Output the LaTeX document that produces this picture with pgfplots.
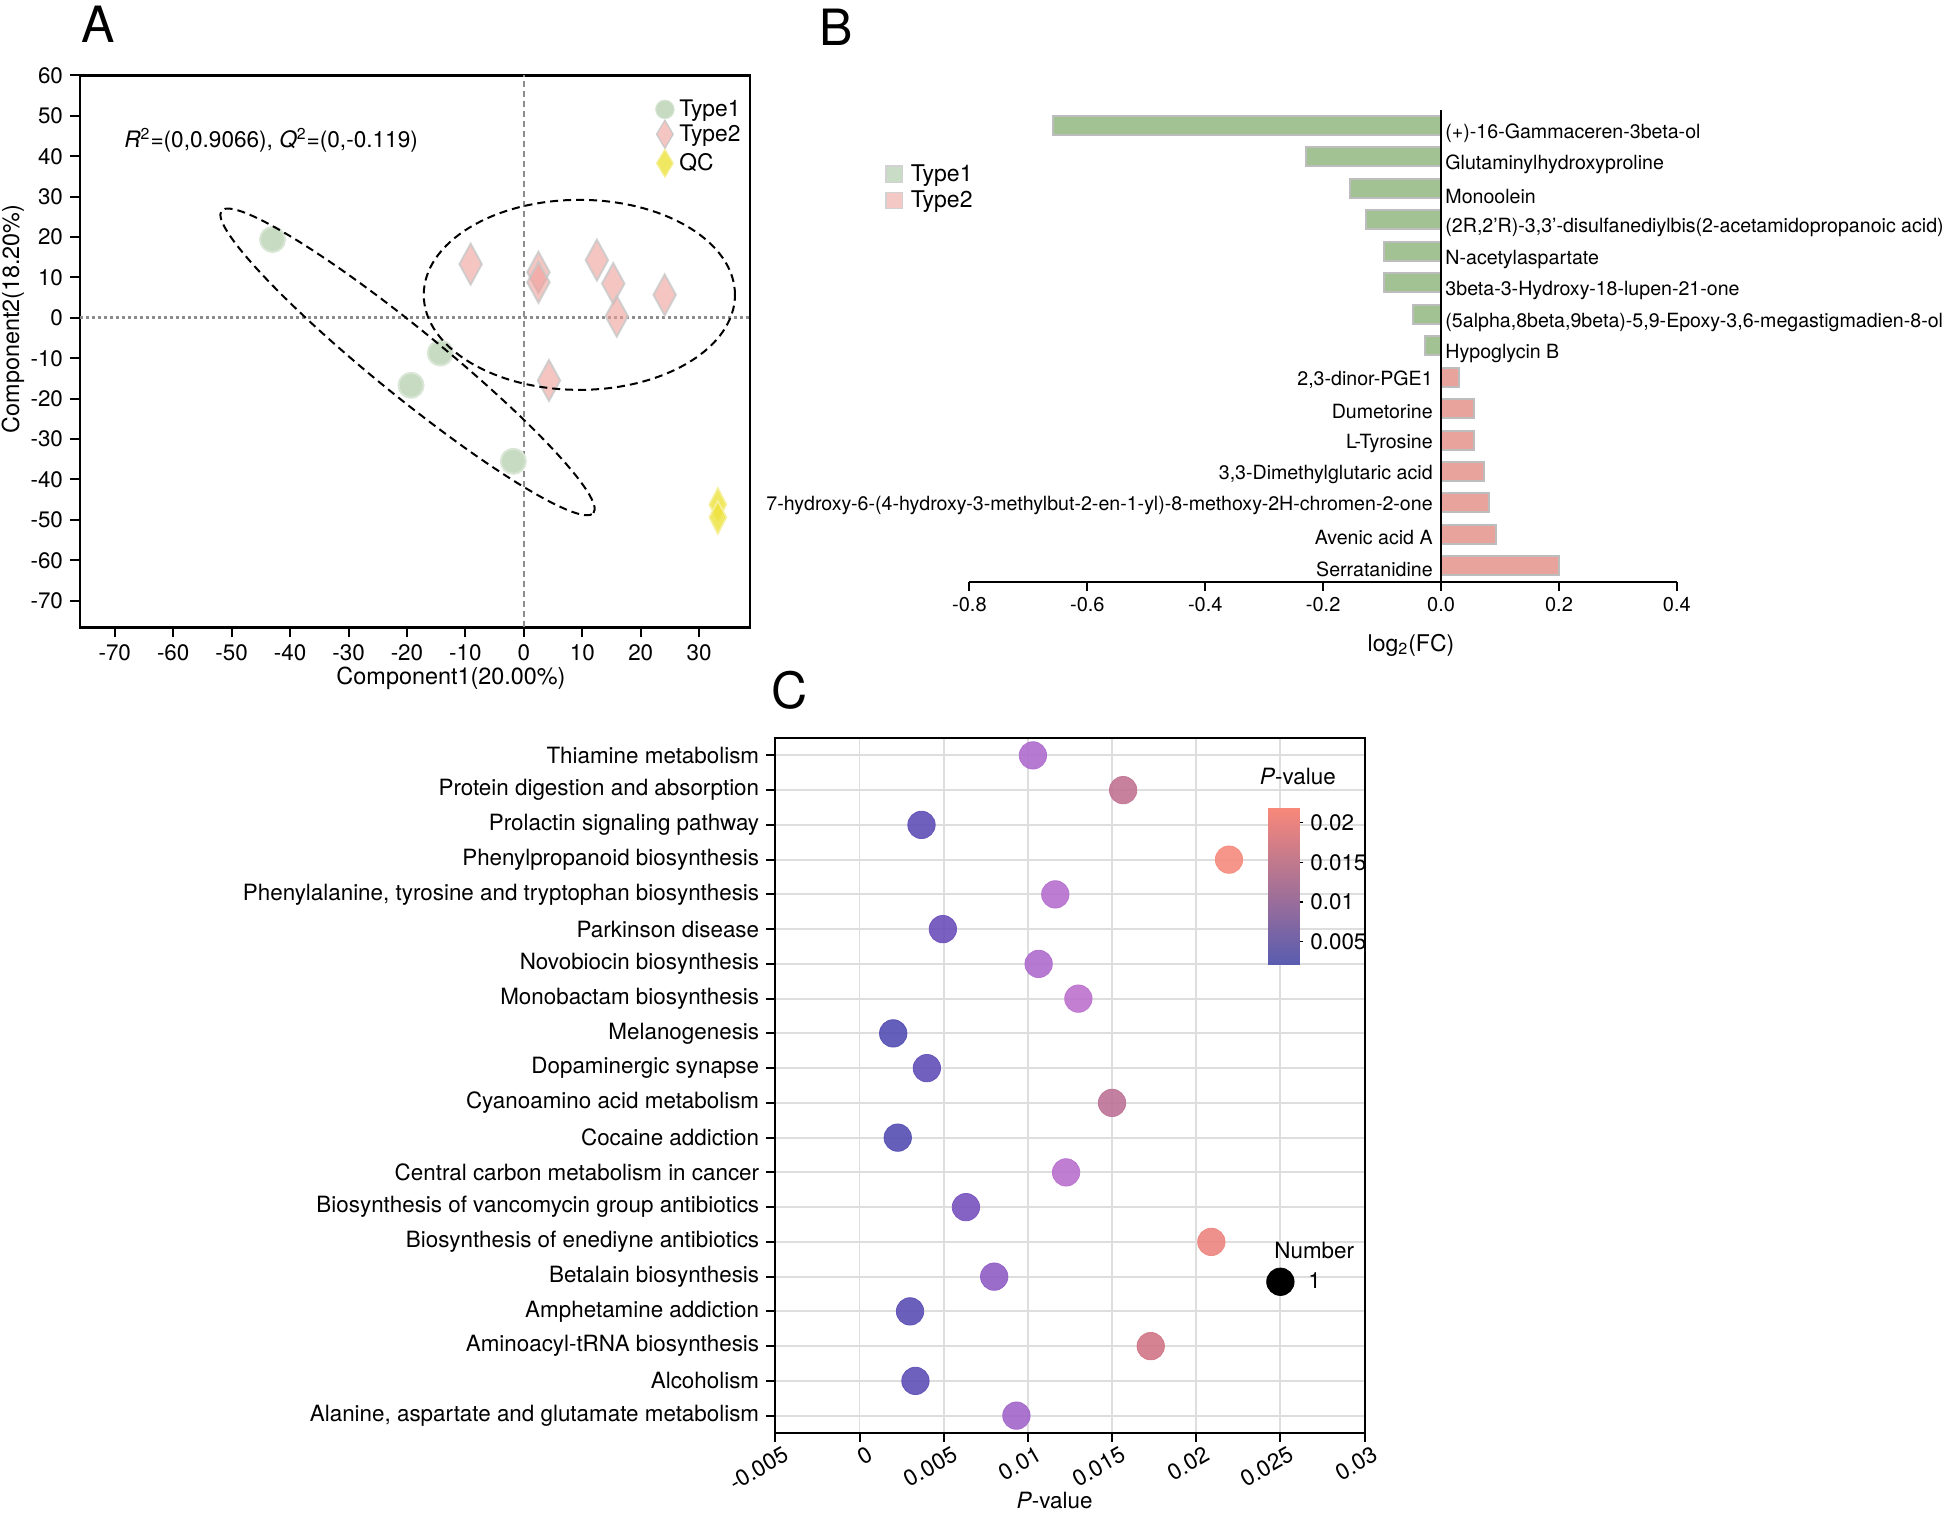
\documentclass[border=0pt]{standalone}
\usepackage{fontspec}
\setmainfont{TeX Gyre Heros}
\usepackage{pgfplots}
\usepackage{pgfplotstable}
\pgfplotsset{compat=1.18, /pgf/number format/assume math mode=true}
\pgfplotsset{markleg/.style={legend image code/.code={\draw[##1] plot coordinates {(0pt,#1)};}}}

\definecolor{onefill}{HTML}{C6DBC2}
\definecolor{onedraw}{HTML}{D9E6D6}
\definecolor{twofill}{HTML}{EE9F9A}
\definecolor{twodraw}{HTML}{C8C8C8}
\definecolor{qcfill}{HTML}{EDE23A}
\definecolor{gbar}{HTML}{A2C293}
\definecolor{pbar}{HTML}{E9A39D}
\definecolor{barline}{HTML}{BDBDBD}
\definecolor{leggreen}{HTML}{C9DDC6}
\definecolor{legpink}{HTML}{F3C8C5}
\definecolor{gridc}{HTML}{DEDEDE}
\definecolor{refline}{HTML}{8C8C8C}

\newcommand\fA{\fontsize{11.2}{13}\selectfont}
\newcommand\fAlab{\fontsize{11.7}{14}\selectfont}
\newcommand\fAleg{\fontsize{11.4}{13}\selectfont}
\newcommand\fR{\fontsize{11.3}{13}\selectfont}
\newcommand\fBt{\fontsize{10}{12}\selectfont}
\newcommand\fBl{\fontsize{9.8}{11}\selectfont}
\newcommand\fBleg{\fontsize{11.5}{13}\selectfont}
\newcommand\fBx{\fontsize{11.5}{13}\selectfont}
\newcommand\fC{\fontsize{11.2}{13}\selectfont}
\newcommand\fCt{\fontsize{11.3}{13}\selectfont}
\newcommand\fL{\fontsize{25}{28}\selectfont}

\pgfplotstableread[col sep=semicolon, row sep=\\]{
x;y;name\\
0;14;(+)-16-Gammaceren-3beta-ol\\
0;13;Glutaminylhydroxyproline\\
0;12;Monoolein\\
0;11;(2R,2'R)-3,3'-disulfanediylbis(2-acetamidopropanoic acid)\\
0;10;N-acetylaspartate\\
0;9;3beta-3-Hydroxy-18-lupen-21-one\\
0;8;(5alpha,8beta,9beta)-5,9-Epoxy-3,6-megastigmadien-8-ol\\
0;7;Hypoglycin B\\
}\Bleft

\pgfplotstableread[col sep=semicolon, row sep=\\]{
x;y;name\\
0;6;2,3-dinor-PGE1\\
0;5;Dumetorine\\
0;4;L-Tyrosine\\
0;3;3,3-Dimethylglutaric acid\\
0;2;7-hydroxy-6-(4-hydroxy-3-methylbut-2-en-1-yl)-8-methoxy-2H-chromen-2-one\\
0;1;Avenic acid A\\
0;0;Serratanidine\\
}\Bright

\pgfplotstableread{
p y
0.01030 0
0.01566 1
0.00368 2
0.02195 3
0.01163 4
0.00495 5
0.01064 6
0.01300 7
0.00200 8
0.00400 9
0.01500 10
0.00227 11
0.01227 12
0.00632 13
0.02090 14
0.00800 15
0.00300 16
0.01730 17
0.00332 18
0.00932 19
}\Cdata

\begin{document}
\begin{tikzpicture}
\useasboundingbox (0,0) rectangle (972.5pt,-760pt);

% ---------------- Panel A ----------------
\begin{axis}[
  at={(40pt,-37.75pt)}, anchor=north west, scale only axis,
  width=335pt, height=275.9pt,
  xmin=-75.95, xmax=38.7, ymin=-76.6, ymax=60,
  xtick={-70,-60,-50,-40,-30,-20,-10,0,10,20,30},
  ytick={-70,-60,-50,-40,-30,-20,-10,0,10,20,30,40,50,60},
  tick pos=left, tick align=outside, major tick length=5pt,
  axis line style={line width=1.2pt},
  every tick/.style={black, line width=1pt},
  tick label style={font=\fA},
  clip=false,
  legend style={at={(axis description cs:0.8585,0.957)}, anchor=north west,
    draw=none, fill=none, inner sep=0pt, row sep=0.5pt, font=\fAleg,
    nodes={inner xsep=2.6pt, inner ysep=0pt}},
  legend cell align=left,
]
\draw[refline, line width=1.4pt, dash pattern=on 1.4pt off 1.6pt] (axis cs:-75.95,0) -- (axis cs:38.7,0);
\draw[refline, line width=1pt, dash pattern=on 3pt off 2pt] (axis cs:0,-76.6) -- (axis cs:0,60);
\addplot[only marks, mark=*, mark size=6.25pt,
  mark options={fill=onefill, draw=onedraw, line width=1pt}, forget plot]
  coordinates {(-43.0,19.4) (-14.3,-8.7) (-19.3,-16.7) (-1.8,-35.5)};
\addplot[only marks, mark=diamond*, mark size=10.2pt,
  mark options={xscale=0.73, fill=twofill, fill opacity=0.6, draw=twodraw, draw opacity=0.8, line width=1pt}, forget plot]
  coordinates {(-9.1,13.3) (2.5,11.3) (2.5,8.8) (12.5,14.3) (15.3,8.5) (15.9,0.4) (24.1,5.7) (4.3,-15.5)};
\addplot[only marks, mark=diamond*, mark size=8.25pt,
  mark options={xscale=0.69, fill=qcfill, fill opacity=0.8, draw=qcfill!50, line width=0.8pt}, forget plot]
  coordinates {(33.2,-46.2) (33.2,-49.4)};
\coordinate (e1) at (axis cs:-19.9,-10.9);
\coordinate (e2) at (axis cs:9.5,5.7);
\addlegendimage{mark=*, mark size=4.65pt, mark options={fill=onefill, draw=onedraw, line width=0.5pt}, markleg=0pt}
\addlegendentry{Type1}
\addlegendimage{mark=diamond*, mark size=7pt, mark options={xscale=0.79, fill=twofill, fill opacity=0.6, draw=twodraw, line width=0.6pt}, markleg=0pt}
\addlegendentry{Type2}
\addlegendimage{mark=diamond*, mark size=7pt, mark options={xscale=0.79, fill=qcfill, fill opacity=0.8, draw=qcfill!50, line width=0.6pt}, markleg=0pt}
\addlegendentry{QC}
\end{axis}
\draw[black, line width=1pt, dash pattern=on 4pt off 2.5pt, rotate around={-39.1:(e1)}] (e1) ellipse [x radius=119.8pt, y radius=16.75pt];
\draw[black, line width=1pt, dash pattern=on 4pt off 2.5pt] (e2) ellipse [x radius=77.8pt, y radius=47.5pt];
\node[anchor=west, font=\fR, inner sep=0pt] at (62pt,-70pt) {\textit{R}\textsuperscript{2}=(0,0.9066), \textit{Q}\textsuperscript{2}=(0,-0.119)};
\node[font=\fAlab] at (225.5pt,-339.2pt) {Component1(20.00\%)};
\node[font=\fAlab, rotate=90] at (6.5pt,-159.5pt) {Component2(18.20\%)};
\node[font=\fL] at (48.85pt,-12.35pt) {A};

% ---------------- Panel B ----------------
\begin{axis}[
  at={(484.7pt,-54.8pt)}, anchor=north west, scale only axis,
  width=353.75pt, height=236pt,
  xmin=-0.8, xmax=0.4, ymin=-0.5, ymax=14.5,
  axis x line*=bottom, axis y line=none,
  xtick={-0.8,-0.6,-0.4,-0.2,0,0.2,0.4},
  xticklabel style={/pgf/number format/fixed, /pgf/number format/fixed zerofill, /pgf/number format/precision=1, font=\fBt},
  tick align=outside, major tick length=4.5pt,
  axis line style={line width=1pt}, every tick/.style={black, line width=1pt},
  clip=false,
  legend style={at={(axis description cs:-0.1193,0.8845)}, anchor=north west,
    draw=none, fill=none, inner sep=0pt, row sep=3.15pt, font=\fBleg,
    nodes={inner xsep=3.8pt, inner ysep=0pt}},
  legend cell align=left,
]
\addplot[xbar, bar width=9.5pt, bar shift=0pt, fill=gbar, draw=barline, line width=1pt, forget plot]
  coordinates {(-0.658,14) (-0.229,13) (-0.154,12) (-0.128,11) (-0.096,10) (-0.096,9) (-0.047,8) (-0.028,7)};
\addplot[xbar, bar width=9.5pt, bar shift=0pt, fill=pbar, draw=barline, line width=1pt, forget plot]
  coordinates {(0.031,6) (0.056,5) (0.056,4) (0.072,3) (0.081,2) (0.094,1) (0.200,0)};
\draw[line width=1pt] (axis cs:0,-0.5) -- (axis cs:0,14.5);
\addplot[draw=none, mark=none, nodes near coords, point meta=explicit symbolic, forget plot,
  every node near coord/.append style={anchor=west, font=\fBl, inner xsep=2pt, inner ysep=0pt, yshift=-4pt, text=black}]
  table[x=x, y=y, meta=name] {\Bleft};
\addplot[draw=none, mark=none, nodes near coords, point meta=explicit symbolic, forget plot,
  every node near coord/.append style={anchor=east, font=\fBl, inner xsep=1pt, inner ysep=0pt, xshift=-3pt, yshift=-1.5pt, text=black}]
  table[x=x, y=y, meta=name] {\Bright};
\addlegendimage{legend image code/.code={\draw[fill=leggreen, draw=barline!70, line width=0.6pt] (0pt,-4.175pt) rectangle (8.35pt,4.175pt);}}
\addlegendentry{Type1}
\addlegendimage{legend image code/.code={\draw[fill=legpink, draw=barline!70, line width=0.6pt] (0pt,-4.175pt) rectangle (8.35pt,4.175pt);}}
\addlegendentry{Type2}
\end{axis}
\node[font=\fBx] at (705.5pt,-322.5pt) {log\textsubscript{2}(FC)};
\node[font=\fL] at (418pt,-13.75pt) {B};

% ---------------- Panel C ----------------
\begin{axis}[
  at={(387.7pt,-369pt)}, anchor=north west, scale only axis,
  width=294.55pt, height=347.5pt,
  xmin=-0.005, xmax=0.03, ymin=-0.5, ymax=19.5, y dir=reverse,
  xtick={-0.005,0,0.005,0.01,0.015,0.02,0.025,0.03},
  ytick={0,1,2,3,4,5,6,7,8,9,10,11,12,13,14,15,16,17,18,19},
  yticklabels={Thiamine metabolism, Protein digestion and absorption, Prolactin signaling pathway,
    Phenylpropanoid biosynthesis, {Phenylalanine, tyrosine and tryptophan biosynthesis},
    Parkinson disease, Novobiocin biosynthesis, Monobactam biosynthesis, Melanogenesis,
    Dopaminergic synapse, Cyanoamino acid metabolism, Cocaine addiction,
    Central carbon metabolism in cancer, Biosynthesis of vancomycin group antibiotics,
    Biosynthesis of enediyne antibiotics, Betalain biosynthesis, Amphetamine addiction,
    Aminoacyl-tRNA biosynthesis, Alcoholism, {Alanine, aspartate and glutamate metabolism}},
  scaled x ticks=false,
  xticklabel style={/pgf/number format/fixed, /pgf/number format/precision=3, rotate=30, anchor=north east, inner sep=1pt, xshift=3.5pt, yshift=-2pt, font=\fCt},
  yticklabel style={font=\fC, inner ysep=0pt},
  grid=major, grid style={gridc, line width=0.9pt},
  tick pos=left, tick align=outside, major tick length=4.6pt,
  axis line style={line width=1pt}, every tick/.style={black, line width=1pt},
  clip=false,
  colormap={pv}{rgb255(0)=(83,78,178) rgb255(8)=(116,80,189) rgb255(16)=(172,107,205) rgb255(22)=(188,114,205) rgb255(26)=(188,114,150) rgb255(31)=(210,116,133) rgb255(40)=(245,138,125)},
  point meta min=0.002, point meta max=0.022,
  legend style={at={(axis description cs:0.8333,0.2748)}, anchor=north west,
    draw=none, fill=none, inner sep=0pt, row sep=3.15pt, font=\fC,
    nodes={inner xsep=7.15pt, inner ysep=0pt}},
  legend cell align=left,
]
\addplot[scatter, only marks, mark=*, mark size=6.85pt, point meta=explicit,
  scatter/use mapped color={draw=mapped color, fill=mapped color}, opacity=0.9, forget plot]
  table[x=p, y=y, meta=p] {\Cdata};
\addlegendimage{empty legend}
\addlegendentry{\hspace*{-17pt}Number}
\addlegendimage{mark=*, mark size=6.85pt, mark options={fill=black, draw=black}, markleg=0pt}
\addlegendentry{1}
\end{axis}
\node[font=\fC] at (527.3pt,-750.3pt) {\textit{P}-value};
\node[font=\fC] at (648.9pt,-388.35pt) {\textit{P}-value};
\node[font=\fL] at (395pt,-345pt) {C};

% colour bar
\begin{axis}[
  at={(634.15pt,-403.85pt)}, anchor=north west, scale only axis,
  width=15.5pt, height=78.3pt,
  xmin=0, xmax=1, ymin=0.00215, ymax=0.0219,
  axis line style={draw=none}, xtick=\empty,
  ytick={0.005,0.01,0.015,0.02},
  ytick pos=right, yticklabel pos=right,
  tick align=outside, major tick length=2pt,
  every tick/.style={black, line width=0.6pt},
  scaled y ticks=false,
  yticklabel style={/pgf/number format/fixed, /pgf/number format/precision=3, font=\fC},
  colormap={cb}{rgb255=(90,92,176) rgb255=(248,136,122)},
  point meta min=0.00215, point meta max=0.0219,
]
\addplot[surf, shader=interp, mesh/cols=2, point meta=y]
  coordinates {(0,0.00215) (1,0.00215) (0,0.0219) (1,0.0219)};
\end{axis}
\end{tikzpicture}
\end{document}
